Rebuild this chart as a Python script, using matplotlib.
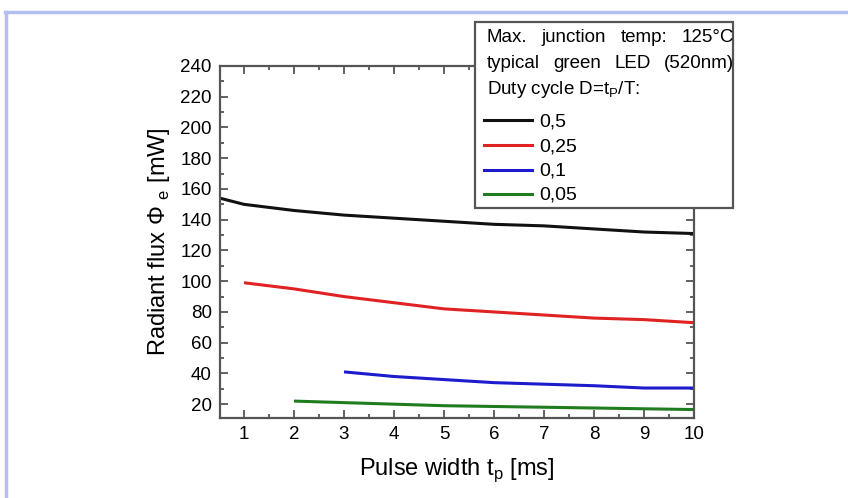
import matplotlib
matplotlib.use("Agg")
import matplotlib.pyplot as plt
from matplotlib.lines import Line2D
from matplotlib.patches import Rectangle
from matplotlib.ticker import MultipleLocator

plt.rcParams['font.family'] = ['Liberation Sans', 'DejaVu Sans']
plt.rcParams['mathtext.fontset'] = 'custom'
plt.rcParams['mathtext.rm'] = 'Liberation Sans'

# Data
x_05 = [0.52, 1, 2, 3, 4, 5, 6, 7, 8, 9, 10]
y_05 = [154, 150, 146, 143, 141, 139, 137, 136, 134, 132, 131]
x_025 = [1, 2, 3, 4, 5, 6, 7, 8, 9, 10]
y_025 = [99, 95, 90, 86, 82, 80, 78, 76, 75, 73]
x_01 = [3, 4, 5, 6, 7, 8, 9, 10]
y_01 = [41, 38, 36, 34, 33, 32, 30.5, 30.5]
x_005 = [2, 3, 4, 5, 6, 7, 8, 9, 10]
y_005 = [22, 21, 20, 19, 18.5, 18, 17.5, 17, 16.5]
series_labels = ['0,5', '0,25', '0,1', '0,05']
series_colors = ['#111111', '#e02222', '#1c1ccc', '#1f7d1f']
x_ticks = [1, 2, 3, 4, 5, 6, 7, 8, 9, 10]
y_ticks = [20, 40, 60, 80, 100, 120, 140, 160, 180, 200, 220, 240]
header_lines = ['Max. junction temp: 125°C', 'typical green LED (520nm)']

W, H = 848, 498
fig = plt.figure(figsize=(W / 100, H / 100), dpi=100)
fig.patch.set_facecolor('white')

def fx(px):
    return px / W

def fy(py):
    return 1 - py / H

# decorative panel border (top and left)
border_col = '#b3bff0'
fig.add_artist(Line2D([fx(5), fx(848)], [fy(12), fy(12)], color=border_col, lw=2.5, transform=fig.transFigure))
fig.add_artist(Line2D([fx(6), fx(6)], [fy(12), fy(498)], color=border_col, lw=2.5, transform=fig.transFigure))

ax = fig.add_axes([fx(220), fy(418), fx(694) - fx(220), fy(66) - fy(418)])
xs = [x_05, x_025, x_01, x_005]
ys = [y_05, y_025, y_01, y_005]
for xv, yv, c in zip(xs, ys, series_colors):
    ax.plot(xv, yv, color=c, lw=2.2, solid_capstyle='butt')

ax.set_xlim(0.52, 10)
ax.set_ylim(11, 240)
ax.set_xticks(x_ticks)
ax.set_yticks(y_ticks)
ax.xaxis.set_minor_locator(MultipleLocator(0.5))
ax.yaxis.set_minor_locator(MultipleLocator(10))
spine_col = '#555555'
for s in ax.spines.values():
    s.set_color(spine_col)
    s.set_linewidth(1.6)
ax.tick_params(which='both', direction='in', top=True, right=True, color=spine_col, width=1.3)
ax.tick_params(which='major', length=6, labelsize=13.5, pad=6)
ax.tick_params(which='minor', length=3)
ax.set_xlabel('Pulse width t$_\\mathregular{p}$ [ms]', fontsize=17, labelpad=9)
ax.set_ylabel('Radiant flux \u03a6 $_\\mathregular{e}$ [mW]', fontsize=17, labelpad=6)

# Legend / annotation box
bx0, by0, bx1, by1 = 475, 22, 733, 208
fig.add_artist(Rectangle((fx(bx0), fy(by1)), fx(bx1) - fx(bx0), fy(by0) - fy(by1),
                         transform=fig.transFigure, facecolor='white', edgecolor='#555555', lw=1.6, zorder=5))
fs = 13.5
renderer = fig.canvas.get_renderer()
left_px, right_px = 487, 734
for line, base in zip(header_lines, [42.5, 68]):
    words = line.split(' ')
    texts = [fig.text(0, fy(base), w, fontsize=fs, va='baseline', ha='left', zorder=6) for w in words]
    widths = [t.get_window_extent(renderer).width for t in texts]
    gap = (right_px - left_px - sum(widths)) / (len(words) - 1)
    pos = left_px
    for t, wdt in zip(texts, widths):
        t.set_x(fx(pos))
        pos += wdt + gap
fig.text(fx(487), fy(94), 'Duty cycle D=t$_\\mathregular{P}$/T:', fontsize=fs, va='baseline', ha='left', zorder=6)
entry_y = [120, 145, 170, 194]
for lab, c, py in zip(series_labels, series_colors, entry_y):
    fig.add_artist(Line2D([fx(484), fx(532)], [fy(py), fy(py)], color=c, lw=2.2, transform=fig.transFigure, zorder=6))
    fig.text(fx(539), fy(py + 6), lab, fontsize=14, va='baseline', ha='left', zorder=6)

fig.savefig('out.png', dpi=100)
